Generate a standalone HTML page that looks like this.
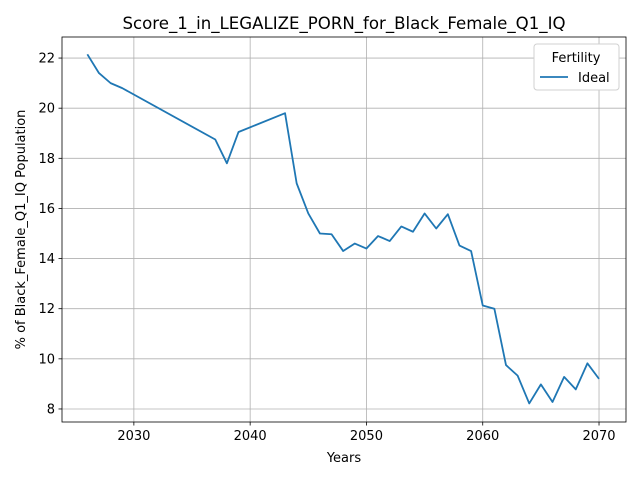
<!DOCTYPE html>
<html><head><meta charset="utf-8"><style>body{margin:0;background:#fff}svg{font-family:"DejaVu Sans","Liberation Sans",sans-serif}</style></head>
<body>
<svg id="c" width="640" height="480"></svg>
<script>
const years=[2026,2027,2028,2029,2037,2038,2039,2043,2044,2045,2046,2047,2048,2049,2050,2051,2052,2053,2054,2055,2056,2057,2058,2059,2060,2061,2062,2063,2064,2065,2066,2067,2068,2069,2070];
const values=[22.15,21.4,21.0,20.8,18.75,17.8,19.05,19.8,17.0,15.8,15.0,14.97,14.3,14.6,14.4,14.9,14.7,15.28,15.07,15.8,15.2,15.77,14.52,14.3,12.13,12.0,9.75,9.33,8.22,8.98,8.28,9.28,8.78,9.82,9.2];
const xTicks=[2030,2040,2050,2060,2070];
const yTicks=[8,10,12,14,16,18,20,22];
const L=62,R=626,T=37,B=422,x0=2023.82,x1=2072.32,y0=7.48,y1=22.84;
const X=v=>L+(v-x0)/(x1-x0)*(R-L), Y=v=>B-(v-y0)/(y1-y0)*(B-T);
const s=document.getElementById('c');const NS='http://www.w3.org/2000/svg';
function mk(t,a,txt){const e=document.createElementNS(NS,t);for(const k in a)e.setAttribute(k,a[k]);if(txt!=null)e.textContent=txt;s.appendChild(e);return e;}
xTicks.forEach(t=>{const x=X(t);
const g=mk('line',{x1:x,x2:x,y1:T,y2:B,stroke:'#b0b0b0','stroke-width':0.8});

mk('line',{x1:x,x2:x,y1:B,y2:B+3.5,stroke:'#000','stroke-width':0.8});
const l=mk('text',{x:x,y:B+18,'text-anchor':'middle','font-size':13},t);
});
yTicks.forEach(t=>{const y=Y(t);
const g=mk('line',{x1:L,x2:R,y1:y,y2:y,stroke:'#b0b0b0','stroke-width':0.8});

mk('line',{x1:L-3.5,x2:L,y1:y,y2:y,stroke:'#000','stroke-width':0.8});
const l=mk('text',{x:L-7,y:y+4.5,'text-anchor':'end','font-size':13},t);
});
const ln=mk('polyline',{points:years.map((v,i)=>X(v)+','+Y(values[i])).join(' '),fill:'none',stroke:'#1f77b4','stroke-width':1.8,'stroke-linejoin':'round'});

const fr=mk('rect',{x:L,y:T,width:R-L,height:B-T,fill:'none',stroke:'#000','stroke-width':0.8});

const ti=mk('text',{x:(L+R)/2,y:29,'text-anchor':'middle','font-size':16.6},'Score_1_in_LEGALIZE_PORN_for_Black_Female_Q1_IQ');

const xt=mk('text',{x:(L+R)/2,y:462,'text-anchor':'middle','font-size':13},'Years');

const yt=mk('text',{x:0,y:0,'text-anchor':'middle','font-size':13,transform:'translate(25,'+((T+B)/2)+') rotate(-90)'},'% of Black_Female_Q1_IQ Population');

const lg=mk('rect',{x:534,y:44,width:85,height:46,fill:'#fff',stroke:'#d0d0d0',rx:3});

const lt=mk('text',{x:576,y:62,'text-anchor':'middle','font-size':13},'Fertility');

const ll=mk('line',{x1:540,x2:568,y1:77,y2:77,stroke:'#1f77b4','stroke-width':1.8});

const le=mk('text',{x:578,y:82,'font-size':13},'Ideal');

</script>
</body></html>
